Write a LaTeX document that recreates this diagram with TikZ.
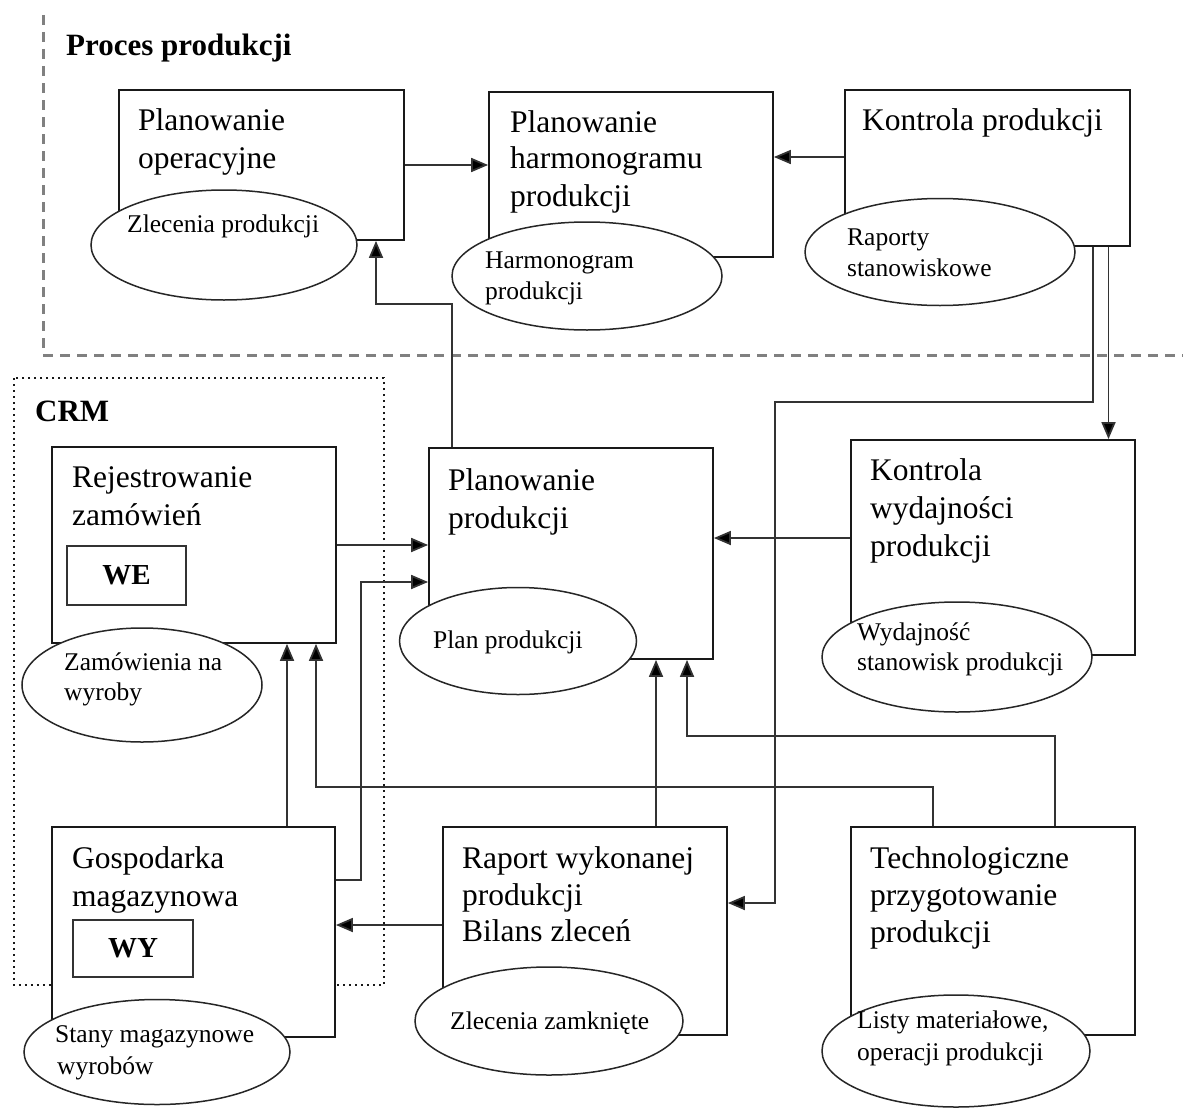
\documentclass[tikz,border=0pt]{standalone}
\usepackage{fontspec}
\setmainfont{Liberation Serif}
\usetikzlibrary{arrows.meta,shapes.geometric}
\begin{document}
\begin{tikzpicture}[x=1pt,y=-1pt,
  box/.style={draw=black!90,line width=1.8pt,inner sep=0pt,fill=white},
  ell/.style={ellipse,draw=black!85,line width=1.5pt,fill=white,inner sep=0pt},
  inbox/.style={draw=black!80,line width=1.8pt,inner sep=0pt,font=\fontsize{29}{32}\selectfont\bfseries},
  arr/.style={draw=black!80,line width=1.8pt,-{Triangle[length=17pt,width=14pt,fill=black]}},
  lbl/.style={anchor=base west,inner sep=0pt,font=\fontsize{31.5}{38}\selectfont},
  elbl/.style={anchor=base west,inner sep=0pt,font=\fontsize{25.5}{31}\selectfont},
  ttl/.style={anchor=base west,inner sep=0pt,font=\fontsize{31}{34}\selectfont\bfseries},
  region/.style={draw=black!50,line width=3pt,dash pattern=on 10pt off 7pt},
  crmbox/.style={draw=black!90,line width=2.4pt,dash pattern=on 2.2pt off 3.8pt}]
\useasboundingbox[fill=white] (0,0) rectangle (1183,1108);

% regions
\draw[region] (43,15) -- (43,355) -- (1183,355);
\draw[crmbox] (14,378) rectangle (384,985);
\node[ttl] (tproc) at (66,56) {Proces produkcji};
\node[ttl] (tcrm) at (35,421) {CRM};

% boxes
\node[box,minimum width=285,minimum height=150] (b1) at (261.5,165) {};
\node[box,minimum width=284,minimum height=165] (b2) at (631,174.5) {};
\node[box,minimum width=285,minimum height=156] (b3) at (987.5,168) {};
\node[box,minimum width=284,minimum height=196] (b4) at (194,545) {};
\node[box,minimum width=284,minimum height=211] (b5) at (571,553.5) {};
\node[box,minimum width=284,minimum height=215] (b6) at (993,547.5) {};
\node[box,minimum width=283,minimum height=210] (b7) at (193.5,932) {};
\node[box,minimum width=284,minimum height=208] (b8) at (585,931) {};
\node[box,minimum width=284,minimum height=208] (b9) at (993,931) {};
\node[inbox,minimum width=119,minimum height=59] (we) at (126.5,575.5) {WE};
\node[inbox,minimum width=120,minimum height=57] (wy) at (133,948.5) {WY};

% ellipses
\node[ell,minimum width=266,minimum height=110] (e1) at (224,245) {};
\node[ell,minimum width=270,minimum height=108] (e2) at (587,276) {};
\node[ell,minimum width=270,minimum height=107] (e3) at (940,252) {};
\node[ell,minimum width=240,minimum height=114] (e4) at (142,685) {};
\node[ell,minimum width=237,minimum height=107] (e5) at (518,641) {};
\node[ell,minimum width=270,minimum height=110] (e6) at (957,657) {};
\node[ell,minimum width=266,minimum height=105] (e7) at (157,1052) {};
\node[ell,minimum width=268,minimum height=108] (e8) at (549,1021) {};
\node[ell,minimum width=268,minimum height=112] (e9) at (956,1051) {};

% box texts
\node[lbl] (t1a) at (138,130) {Planowanie};
\node[lbl] (t1b) at (138,168) {operacyjne};
\node[lbl] (t2a) at (510,132) {Planowanie};
\node[lbl] (t2b) at (510,168) {harmonogramu};
\node[lbl] (t2c) at (510,206) {produkcji};
\node[lbl] (t3a) at (862,130) {Kontrola produkcji};
\node[lbl] (t4a) at (72,487) {Rejestrowanie};
\node[lbl] (t4b) at (72,525) {zamówień};
\node[lbl] (t5a) at (448,490) {Planowanie};
\node[lbl] (t5b) at (448,528) {produkcji};
\node[lbl] (t6a) at (870,480) {Kontrola};
\node[lbl] (t6b) at (870,518) {wydajności};
\node[lbl] (t6c) at (870,556) {produkcji};
\node[lbl] (t7a) at (72,868) {Gospodarka};
\node[lbl] (t7b) at (72,906) {magazynowa};
\node[lbl] (t8a) at (462,868) {Raport wykonanej};
\node[lbl] (t8b) at (462,905) {produkcji};
\node[lbl] (t8c) at (462,941) {Bilans zleceń};
\node[lbl] (t9a) at (870,868) {Technologiczne};
\node[lbl] (t9b) at (870,905) {przygotowanie};
\node[lbl] (t9c) at (870,942) {produkcji};

% ellipse texts
\node[elbl] (s1a) at (127,232) {Zlecenia produkcji};
\node[elbl] (s2a) at (485,268) {Harmonogram};
\node[elbl] (s2b) at (485,299) {produkcji};
\node[elbl] (s3a) at (847,245) {Raporty};
\node[elbl] (s3b) at (847,276) {stanowiskowe};
\node[elbl] (s4a) at (64,670) {Zamówienia na};
\node[elbl] (s4b) at (64,700) {wyroby};
\node[elbl] (s5a) at (433,648) {Plan produkcji};
\node[elbl] (s6a) at (857,640) {Wydajność};
\node[elbl] (s6b) at (857,670) {stanowisk produkcji};
\node[elbl] (s7a) at (55,1042) {Stany magazynowe};
\node[elbl] (s7b) at (57,1074) {wyrobów};
\node[elbl] (s8a) at (450,1029) {Zlecenia zamknięte};
\node[elbl] (s9a) at (857,1028) {Listy materiałowe,};
\node[elbl] (s9b) at (857,1060) {operacji produkcji};

% connectors
\draw[arr] (b1.east) -- (b1.east -| b2.west);
\draw[arr] ([yshift=11pt]b3.west) -- ([yshift=11pt]b3.west -| b2.east);
\draw[arr] ([xshift=-119pt]b5.north) -- ++(0,-143) -| ([xshift=114.5pt]b1.south);
\draw[arr] ([xshift=105.5pt]b3.south) -- ++(0,155) -- ++(-318,0) |- ([yshift=28pt]b8.east);
\draw[arr] ([xshift=121pt]b3.south) -- ([xshift=121pt]b3.south |- b6.north);
\draw[arr] (b4.east) -- (b4.east -| b5.west);
\draw[arr] ([yshift=52pt]b7.east) -- ++(25,0) |- ([yshift=-28.5pt]b5.west);
\draw[arr] ([yshift=9.5pt]b6.west) -- ([yshift=9.5pt]b6.west -| b5.east);
\draw[arr] ([xshift=93.5pt]b7.north) -- ([xshift=93.5pt]b7.north |- b4.south);
\draw[arr] ([xshift=-60pt]b9.north) -- ++(0,-39) -| ([xshift=122pt]b4.south);
\draw[arr] ([xshift=71pt]b8.north) -- ([xshift=71pt]b8.north |- b5.south);
\draw[arr] ([xshift=62pt]b9.north) -- ++(0,-90) -| ([xshift=116pt]b5.south);
\draw[arr] ([yshift=6pt]b8.west) -- ([yshift=6pt]b8.west -| b7.east);
\end{tikzpicture}
\end{document}
